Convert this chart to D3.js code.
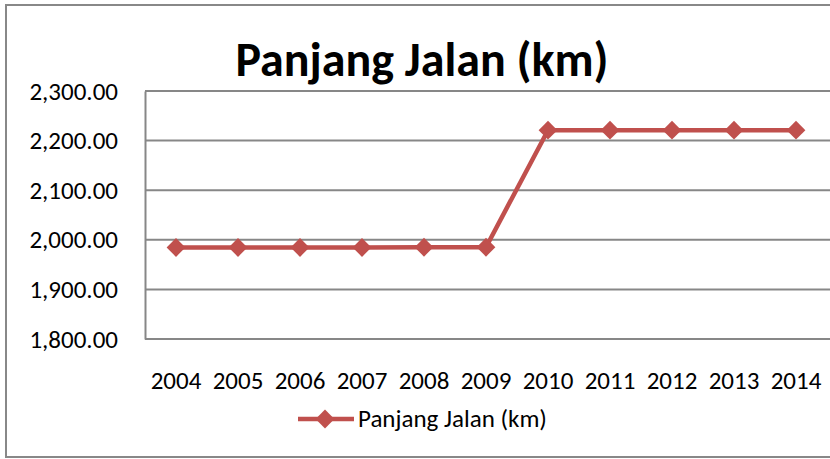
<!DOCTYPE html>
<html>
  <head>
    <script type="text/javascript" src="https://cdn.jsdelivr.net/npm/d3@7"></script>
    <style type="text/css">

html, body {
  margin: 0;
  background: #fff;
}

svg {
  display: block;
  font-family: Carlito, Calibri, "Liberation Sans Narrow", "DejaVu Sans Condensed", sans-serif;
}

    </style>
  </head>
  <body>
    <div id="chart"></div>
    <script type="text/javascript">

var years = ["2004", "2005", "2006", "2007", "2008", "2009", "2010", "2011", "2012", "2013", "2014"];
var panjang = [1984.5, 1984.5, 1984.5, 1984.5, 1985, 1985, 2221, 2221, 2221, 2221, 2221];
var yTicks = [1800, 1900, 2000, 2100, 2200, 2300];
var seriesName = "Panjang Jalan (km)";

var width = 830, height = 459,
    plotLeft = 145, plotRight = 827, plotTop = 91, plotBottom = 339,
    red = "#C0504D";

var svg = d3.select("#chart").append("svg")
    .attr("width", width)
    .attr("height", height);

// outer chart border
svg.append("rect")
    .attr("x", 6).attr("y", 5)
    .attr("width", 840).attr("height", 452)
    .attr("fill", "#fff")
    .attr("stroke", "#888")
    .attr("stroke-width", 2);

var x = d3.scaleBand().domain(years).range([plotLeft, plotRight]);
var y = d3.scaleLinear().domain([1800, 2300]).range([plotBottom, plotTop]);

// gridlines
svg.append("g").selectAll("line")
    .data(yTicks)
  .enter().append("line")
    .attr("x1", plotLeft).attr("x2", plotRight + 10)
    .attr("y1", function(d) { return y(d); })
    .attr("y2", function(d) { return y(d); })
    .attr("stroke", "#878787")
    .attr("stroke-width", 2);

// y axis
var yAxis = svg.append("g")
    .attr("transform", "translate(" + plotLeft + ",0)")
    .call(d3.axisLeft(y).tickValues(yTicks).tickSize(0).tickPadding(27)
      .tickFormat(d3.format(",.2f")));
yAxis.attr("font-family", null).attr("font-size", null);
yAxis.select(".domain").attr("stroke", "#878787").attr("stroke-width", 2);
yAxis.selectAll("text").attr("font-size", 25).attr("fill", "#000");

// x axis
var xAxis = svg.append("g")
    .attr("transform", "translate(0," + plotBottom + ")")
    .call(d3.axisBottom(x).tickSize(0).tickPadding(32));
xAxis.attr("font-family", null).attr("font-size", null);
xAxis.select(".domain").remove();
xAxis.selectAll("text").attr("font-size", 25).attr("fill", "#000");

// title
svg.append("text")
    .attr("x", 422).attr("y", 76)
    .attr("text-anchor", "middle")
    .attr("font-size", 48)
    .attr("font-weight", "bold")
    .text(seriesName);

// line
var line = d3.line()
    .x(function(d, i) { return x(years[i]) + x.bandwidth() / 2; })
    .y(function(d) { return y(d); });

svg.append("path")
    .datum(panjang)
    .attr("d", line)
    .attr("fill", "none")
    .attr("stroke", red)
    .attr("stroke-width", 4.5)
    .attr("stroke-linejoin", "round");

// square diamond markers, like excel's
var diamond = d3.symbol().type(d3.symbolDiamond2).size(225);

svg.append("g").selectAll("path")
    .data(panjang)
  .enter().append("path")
    .attr("d", diamond)
    .attr("transform", function(d, i) {
      return "translate(" + (x(years[i]) + x.bandwidth() / 2) + "," + y(d) + ")";
    })
    .attr("fill", red);

// legend
var legend = svg.append("g").attr("transform", "translate(298,419)");
legend.append("line")
    .attr("x1", 0).attr("x2", 56)
    .attr("stroke", red).attr("stroke-width", 4.5);
legend.append("path")
    .attr("d", diamond)
    .attr("transform", "translate(27,0)")
    .attr("fill", red);
legend.append("text")
    .attr("x", 60).attr("y", 8)
    .attr("font-size", 25)
    .text(seriesName);

    </script>
  </body>
</html>
